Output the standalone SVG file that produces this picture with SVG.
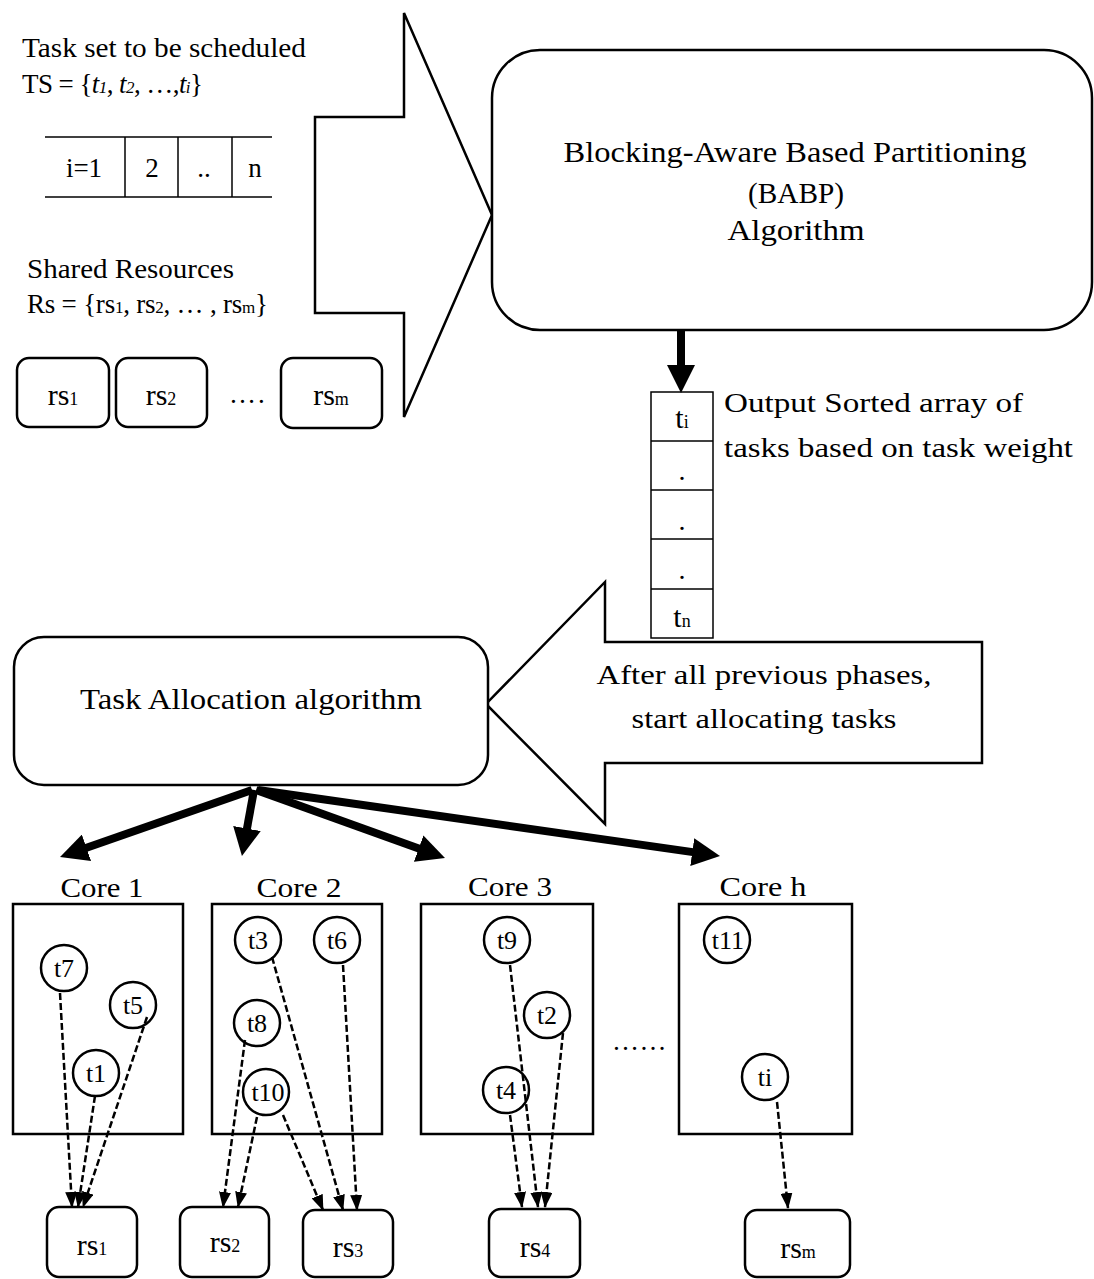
<svg xmlns="http://www.w3.org/2000/svg" width="1094" height="1279" viewBox="0 0 1094 1279">
<style>
text{font-family:"Liberation Serif","Times New Roman",serif;fill:#000}
.t25{font-size:27px}
.t27{font-size:29px}
.t26{font-size:28px}
.tc{font-size:26px}
.mid{text-anchor:middle}
.sub{font-size:17px}
.box{fill:#fff;stroke:#000;stroke-width:2.5}
.thin{fill:none;stroke:#000;stroke-width:1.5}
.circ{fill:#fff;stroke:#000;stroke-width:2.5}
.thick{stroke:#000;stroke-width:8;fill:none;marker-end:url(#big)}
.dash{stroke:#000;stroke-width:2.5;fill:none;stroke-dasharray:7 3;marker-end:url(#small)}
</style>
<defs>
<marker id="big" viewBox="0 0 28 28" refX="6" refY="14" markerWidth="28" markerHeight="28" markerUnits="userSpaceOnUse" orient="auto"><path d="M0,0 L28,14 L0,28 z" fill="#000"/></marker>
<marker id="small" viewBox="0 0 16 12" refX="15" refY="6" markerWidth="16" markerHeight="12" markerUnits="userSpaceOnUse" orient="auto"><path d="M0,0 L16,6 L0,12 z" fill="#000"/></marker>
</defs>
<rect width="1094" height="1279" fill="#fff"/>

<g id="taskset">
<text class="t25" x="22" y="57" textLength="284" lengthAdjust="spacingAndGlyphs">Task set to be scheduled</text>
<text class="t25" x="22" y="93" textLength="181">TS = {<tspan font-style="italic">t</tspan><tspan class="sub" font-style="italic">1</tspan>, <tspan font-style="italic">t</tspan><tspan class="sub" font-style="italic">2</tspan>, …,<tspan font-style="italic">t</tspan><tspan class="sub" font-style="italic">i</tspan>}</text>
</g>

<g id="index-table">
<line class="thin" x1="45" y1="137" x2="272" y2="137"/>
<line class="thin" x1="45" y1="197" x2="272" y2="197"/>
<line class="thin" x1="125" y1="137" x2="125" y2="197"/>
<line class="thin" x1="178" y1="137" x2="178" y2="197"/>
<line class="thin" x1="232" y1="137" x2="232" y2="197"/>
<text class="t25 mid" x="84" y="177">i=1</text>
<text class="t25 mid" x="152" y="177">2</text>
<text class="t25 mid" x="204" y="177">..</text>
<text class="t25 mid" x="255" y="177">n</text>
</g>

<g id="shared-resources">
<text class="t25" x="27" y="278" textLength="207" lengthAdjust="spacingAndGlyphs">Shared Resources</text>
<text class="t25" x="27" y="313" textLength="241">Rs = {rs<tspan class="sub">1</tspan>, rs<tspan class="sub">2</tspan>, … , rs<tspan class="sub">m</tspan>}</text>
</g>

<g id="rs-top-1"><rect class="box" x="17" y="358" width="92" height="69" rx="12"/><text class="mid" x="63" y="405" font-size="30">rs<tspan font-size="18">1</tspan></text></g>
<g id="rs-top-2"><rect class="box" x="116" y="358" width="91" height="69" rx="12"/><text class="mid" x="161" y="405" font-size="30">rs<tspan font-size="18">2</tspan></text></g>
<text class="t25" x="229" y="403" letter-spacing="2">….</text>
<g id="rs-top-m"><rect class="box" x="281" y="358" width="101" height="70" rx="12"/><text class="mid" x="331" y="405" font-size="30">rs<tspan font-size="18">m</tspan></text></g>

<g id="input-arrow">
<polygon class="box" points="315,117 404,117 404,13 492,215 404,417 404,313 315,313"/>
</g>

<g id="babp">
<rect class="box" x="492" y="50" width="600" height="280" rx="48"/>
<text class="t27 mid" x="795" y="162" textLength="463" lengthAdjust="spacingAndGlyphs">Blocking-Aware Based Partitioning</text>
<text class="t27 mid" x="796" y="203" textLength="96" lengthAdjust="spacingAndGlyphs">(BABP)</text>
<text class="t27 mid" x="796" y="240" textLength="137" lengthAdjust="spacingAndGlyphs">Algorithm</text>
</g>

<g id="sorted-array">
<rect class="thin" x="651" y="392" width="62" height="246"/>
<line class="thin" x1="651" y1="441" x2="713" y2="441"/>
<line class="thin" x1="651" y1="490" x2="713" y2="490"/>
<line class="thin" x1="651" y1="539" x2="713" y2="539"/>
<line class="thin" x1="651" y1="589" x2="713" y2="589"/>
<text class="mid" x="682" y="428" font-size="30">t<tspan font-size="18">i</tspan></text>
<text class="mid" x="682" y="480" font-size="28">.</text>
<text class="mid" x="682" y="530" font-size="28">.</text>
<text class="mid" x="682" y="579" font-size="28">.</text>
<text class="mid" x="682" y="627" font-size="30">t<tspan font-size="18">n</tspan></text>
<text class="t26" x="724" y="412" textLength="299" lengthAdjust="spacingAndGlyphs">Output Sorted array of</text>
<text class="t26" x="724" y="457" textLength="349" lengthAdjust="spacingAndGlyphs">tasks based on task weight</text>
</g>

<g id="allocate-arrow">
<polygon class="box" points="982,642 605,642 605,582 486,704 605,824 605,763 982,763"/>
<text class="t26 mid" x="764" y="684" textLength="335" lengthAdjust="spacingAndGlyphs">After all previous phases,</text>
<text class="t26 mid" x="764" y="728" textLength="265" lengthAdjust="spacingAndGlyphs">start allocating tasks</text>
</g>

<g id="task-allocation">
<rect class="box" x="14" y="637" width="474" height="148" rx="30"/>
<text class="mid" x="251" y="709" font-size="30" textLength="342" lengthAdjust="spacingAndGlyphs">Task Allocation algorithm</text>
</g>

<g id="core1">
<text class="t26 mid" x="102" y="897" textLength="83" lengthAdjust="spacingAndGlyphs">Core 1</text>
<rect class="box" x="13" y="904" width="170" height="230"/>
<circle class="circ" cx="64" cy="968" r="23"/><text class="tc mid" x="64" y="977">t7</text>
<circle class="circ" cx="133" cy="1005" r="23"/><text class="tc mid" x="133" y="1014">t5</text>
<circle class="circ" cx="96" cy="1073" r="23"/><text class="tc mid" x="96" y="1082">t1</text>
</g>
<g id="core2">
<text class="t26 mid" x="299" y="897" textLength="85" lengthAdjust="spacingAndGlyphs">Core 2</text>
<rect class="box" x="212" y="904" width="170" height="230"/>
<circle class="circ" cx="258" cy="940" r="23"/><text class="tc mid" x="258" y="949">t3</text>
<circle class="circ" cx="337" cy="940" r="23"/><text class="tc mid" x="337" y="949">t6</text>
<circle class="circ" cx="257" cy="1023" r="23"/><text class="tc mid" x="257" y="1032">t8</text>
<circle class="circ" cx="266" cy="1092" r="23"/><text class="tc mid" x="268" y="1101">t10</text>
</g>
<g id="core3">
<text class="t26 mid" x="510" y="896" textLength="84" lengthAdjust="spacingAndGlyphs">Core 3</text>
<rect class="box" x="421" y="904" width="172" height="230"/>
<circle class="circ" cx="507" cy="940" r="23"/><text class="tc mid" x="507" y="949">t9</text>
<circle class="circ" cx="547" cy="1015" r="23"/><text class="tc mid" x="547" y="1024">t2</text>
<circle class="circ" cx="506" cy="1090" r="23"/><text class="tc mid" x="506" y="1099">t4</text>
</g>
<text class="t25" x="612" y="1050" letter-spacing="0.5">……</text>
<g id="coreh">
<text class="t26 mid" x="763" y="896" textLength="87" lengthAdjust="spacingAndGlyphs">Core h</text>
<rect class="box" x="679" y="904" width="173" height="230"/>
<circle class="circ" cx="727" cy="940" r="23"/><text class="tc mid" x="728" y="949">t11</text>
<circle class="circ" cx="765" cy="1077" r="23"/><text class="tc mid" x="765" y="1086">ti</text>
</g>

<g id="rs1"><rect class="box" x="47" y="1207" width="90" height="70" rx="12"/><text class="mid" x="92" y="1255" font-size="30">rs<tspan font-size="18">1</tspan></text></g>
<g id="rs2"><rect class="box" x="180" y="1207" width="89" height="70" rx="12"/><text class="mid" x="225" y="1252" font-size="30">rs<tspan font-size="18">2</tspan></text></g>
<g id="rs3"><rect class="box" x="303" y="1210" width="90" height="67" rx="12"/><text class="mid" x="348" y="1257" font-size="30">rs<tspan font-size="18">3</tspan></text></g>
<g id="rs4"><rect class="box" x="489" y="1209" width="91" height="68" rx="12"/><text class="mid" x="535" y="1257" font-size="30">rs<tspan font-size="18">4</tspan></text></g>
<g id="rsm"><rect class="box" x="745" y="1210" width="105" height="67" rx="12"/><text class="mid" x="798" y="1258" font-size="30">rs<tspan font-size="18">m</tspan></text></g>

<g id="connectors">
<line class="thick" x1="681" y1="331" x2="681" y2="371"/>
<line class="thick" x1="252" y1="790" x2="80.8" y2="849.8"/>
<line class="thick" x1="254" y1="790" x2="245.9" y2="834.4"/>
<line class="thick" x1="256" y1="790" x2="424.3" y2="850.6"/>
<line class="thick" x1="258" y1="790" x2="698.2" y2="852.9" stroke-width="10"/>
<line class="dash" x1="60" y1="993" x2="72" y2="1207"/>
<line class="dash" x1="95" y1="1096" x2="78" y2="1207"/>
<line class="dash" x1="147" y1="1017" x2="83" y2="1207"/>
<line class="dash" x1="245" y1="1040" x2="223" y2="1207"/>
<line class="dash" x1="257" y1="1117" x2="238" y2="1207"/>
<line class="dash" x1="283" y1="1115" x2="323" y2="1210"/>
<line class="dash" x1="272" y1="957" x2="343" y2="1210"/>
<line class="dash" x1="343" y1="965" x2="357" y2="1210"/>
<line class="dash" x1="510" y1="965" x2="538" y2="1207"/>
<line class="dash" x1="563" y1="1033" x2="545" y2="1207"/>
<line class="dash" x1="510" y1="1115" x2="522" y2="1207"/>
<line class="dash" x1="777" y1="1102" x2="788" y2="1208"/>
</g>
</svg>
